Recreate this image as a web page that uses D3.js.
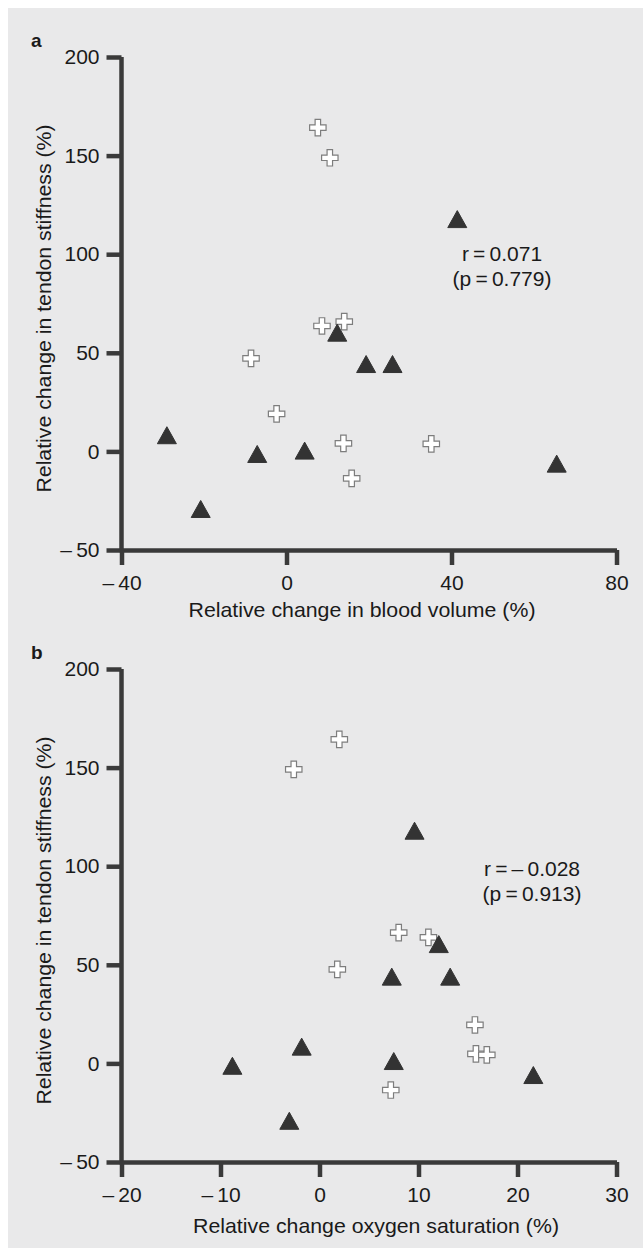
<!DOCTYPE html>
<html>
<head>
<meta charset="utf-8">
<script src="https://cdn.jsdelivr.net/npm/d3@7"></script>
<style>
  body { margin: 0; background: #fff; }
  svg text { font-family: "Liberation Sans", Arial, sans-serif; fill: #1a1a1a; }
  .axis path, .axis line { stroke: #3a3a3a; }
</style>
</head>
<body>
<div class="svgBox"></div>
<script>
// panel a: blood volume vs tendon stiffness
var aTriX   = [41.4, 12.3, 19.3, 25.7, -29.0, -7.1, 4.4, -20.8, 65.5];
var aTriY   = [117.8, 60.2, 44.3, 44.3, 8.2, -1.3, 0.4, -29.2, -6.2];
var aCrossX = [7.6, 10.5, 8.6, 14.0, -8.6, -2.4, 13.8, 35.1, 15.8];
var aCrossY = [164.2, 148.9, 63.6, 65.8, 47.2, 19.0, 4.1, 3.8, -13.7];
var aXTicks = [-40, 0, 40, 80];

// panel b: oxygen saturation vs tendon stiffness
var bTriX   = [9.6, 12.05, 7.3, 13.2, -8.8, -1.8, 7.5, -3.05, 21.6];
var bTriY   = [118.0, 60.5, 44.0, 44.0, -1.2, 8.5, 1.2, -29.1, -5.9];
var bCrossX = [2.0, -2.6, 8.0, 11.0, 1.8, 15.7, 15.8, 16.9, 7.2];
var bCrossY = [164.3, 149.1, 66.3, 63.9, 47.7, 19.5, 4.8, 4.3, -13.5];
var bXTicks = [-20, -10, 0, 10, 20, 30];

var yTicks = [-50, 0, 50, 100, 150, 200];
var yTitle = "Relative change in tendon stiffness (%)";

var W = 643, H = 1256;
var FS = 21;

var svg = d3.select(".svgBox").append("svg")
    .attr("width", W)
    .attr("height", H);

// grey page background
svg.append("rect")
    .attr("x", 8).attr("y", 8)
    .attr("width", W - 8).attr("height", 1240)
    .attr("fill", "#e9e9ea");

// minus sign as en dash + thin space
function fmt(v) {
    return v < 0 ? "\u2013\u2009" + Math.abs(v) : String(v);
}

// triangle: bounding box centred on the point
function triPath(w, h) {
    var p = d3.path();
    p.moveTo(0, -h / 2);
    p.lineTo(w / 2, h / 2);
    p.lineTo(-w / 2, h / 2);
    p.closePath();
    return p.toString();
}
var crossSym = d3.symbol().type(d3.symbolCross).size(150);

function drawPanel(o) {
    var x = d3.scaleLinear().domain(o.xDomain).range([121.5, 616.5]);
    var y = d3.scaleLinear().domain([-50, 200]).range([o.top + 493, o.top]);
    var g = svg.append("g");

    // panel letter
    g.append("text")
        .attr("x", 31).attr("y", o.top - 10)
        .attr("font-size", 19).attr("font-weight", "bold")
        .text(o.letter);

    // y axis
    var yAxis = g.append("g").attr("class", "axis")
        .attr("transform", "translate(" + x.range()[0] + ",0)")
        .call(d3.axisLeft(y).tickValues(yTicks).tickFormat(fmt)
            .tickSize(15).tickSizeOuter(0).tickPadding(7));
    // x axis
    var xAxis = g.append("g").attr("class", "axis")
        .attr("transform", "translate(0," + y.range()[0] + ")")
        .call(d3.axisBottom(x).tickValues(o.xTicks).tickFormat(fmt)
            .tickSize(15).tickSizeOuter(0).tickPadding(10));

    [yAxis, xAxis].forEach(function(ax) {
        ax.select(".domain").attr("stroke-width", 4.5);
        ax.selectAll(".tick line").attr("stroke-width", 4.5);
        ax.selectAll(".tick text")
            .attr("font-size", FS)
            .attr("fill", "#1a1a1a")
            .attr("font-family", "Liberation Sans, Arial, sans-serif");
    });
    // let the y axis run through the x axis corner
    yAxis.select(".domain").attr("d", "M0," + (y.range()[1]) + "V" + (y.range()[0] + 2.25));

    // axis titles
    g.append("text")
        .attr("transform", "translate(51," + (y(75) + 5) + ") rotate(-90)")
        .attr("text-anchor", "middle")
        .attr("font-size", FS)
        .attr("textLength", 368)
        .attr("lengthAdjust", "spacingAndGlyphs")
        .text(yTitle);
    g.append("text")
        .attr("x", o.xTitleX).attr("y", o.xTitleY)
        .attr("text-anchor", "middle")
        .attr("font-size", FS)
        .attr("textLength", o.xTitleLen)
        .attr("lengthAdjust", "spacingAndGlyphs")
        .text(o.xTitle);

    // crosses
    g.selectAll("path.cross")
        .data(d3.range(o.crossX.length))
        .enter().append("path")
        .attr("class", "cross")
        .attr("d", crossSym)
        .attr("transform", function(i) { return "translate(" + x(o.crossX[i]) + "," + y(o.crossY[i]) + ")"; })
        .attr("fill", "#fff")
        .attr("stroke", "#7d7d7d")
        .attr("stroke-width", 1.2);

    // triangles
    g.selectAll("path.tri")
        .data(d3.range(o.triX.length))
        .enter().append("path")
        .attr("class", "tri")
        .attr("d", triPath(19, 17))
        .attr("transform", function(i) { return "translate(" + x(o.triX[i]) + "," + y(o.triY[i]) + ")"; })
        .attr("fill", "#333")
        .attr("stroke", "#333")
        .attr("stroke-width", 1)
        .attr("stroke-linejoin", "round");

    // correlation note
    var note = g.append("text")
        .attr("text-anchor", "middle")
        .attr("font-size", FS);
    note.append("tspan").attr("x", o.noteX).attr("y", o.noteY).text(o.note[0]);
    note.append("tspan").attr("x", o.noteX).attr("y", o.noteY + 25).text(o.note[1]);
}

drawPanel({
    letter: "a", top: 57,
    xDomain: [-40, 80], xTicks: aXTicks,
    triX: aTriX, triY: aTriY, crossX: aCrossX, crossY: aCrossY,
    xTitle: "Relative change in blood volume (%)", xTitleX: 362, xTitleY: 617, xTitleLen: 347,
    note: ["r\u2009=\u20090.071", "(p\u2009=\u20090.779)"], noteX: 502, noteY: 261
});

drawPanel({
    letter: "b", top: 669,
    xDomain: [-20, 30], xTicks: bXTicks,
    triX: bTriX, triY: bTriY, crossX: bCrossX, crossY: bCrossY,
    xTitle: "Relative change oxygen saturation (%)", xTitleX: 376, xTitleY: 1233, xTitleLen: 366,
    note: ["r\u2009=\u2009\u2013\u20090.028", "(p\u2009=\u20090.913)"], noteX: 532, noteY: 876
});
</script>
</body>
</html>
